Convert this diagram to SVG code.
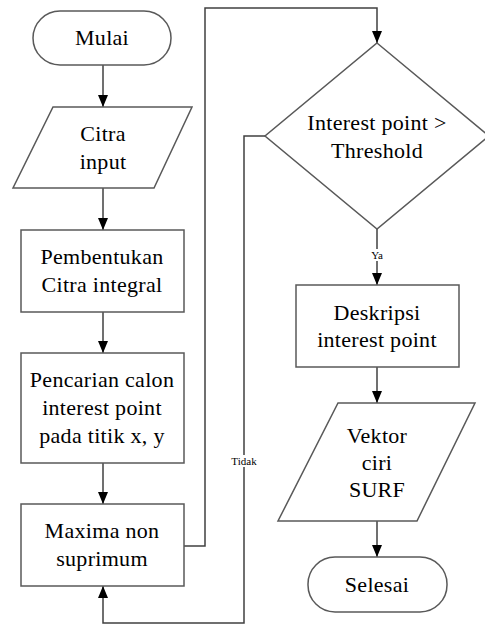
<svg xmlns="http://www.w3.org/2000/svg" width="485" height="626" viewBox="0 0 485 626">
<style>
.shape{fill:#fff;stroke:#595959;stroke-width:1.5}
.t{font-family:'Liberation Serif','Times New Roman',serif;font-size:22px;fill:#000;text-anchor:middle;letter-spacing:0.3px}
.lbl{font-family:'Liberation Serif','Times New Roman',serif;font-size:11px;fill:#000;text-anchor:middle}
.c{fill:none;stroke:#404040;stroke-width:1.5}
.bg{fill:#fff;stroke:none}
</style>
<defs>
<marker id="arr" markerWidth="12" markerHeight="10" refX="12" refY="5" orient="auto" markerUnits="userSpaceOnUse" viewBox="0 0 12 10">
<path d="M0,0 L12,5 L0,10 Z" fill="#000"/>
</marker>
</defs>
<rect width="485" height="626" fill="#fff"/>
<g id="connectors">
<path class="c" d="M103,65 V107" marker-end="url(#arr)"/>
<path class="c" d="M103,188 V230" marker-end="url(#arr)"/>
<path class="c" d="M103,312 V353" marker-end="url(#arr)"/>
<path class="c" d="M103,463 V504" marker-end="url(#arr)"/>
<path class="c" d="M184,546 H205 V8 H377 V43" marker-end="url(#arr)"/>
<path class="c" d="M377,229 V285" marker-end="url(#arr)"/>
<path class="c" d="M377,367 V403" marker-end="url(#arr)"/>
<path class="c" d="M377,521 V557" marker-end="url(#arr)"/>
<path class="c" d="M265,136 H244 V623 H103 V586" marker-end="url(#arr)"/>
<rect class="bg" x="368" y="249" width="18" height="12"/>
<text class="lbl" x="377" y="259">Ya</text>
<rect class="bg" x="229" y="455" width="30" height="12"/>
<text class="lbl" x="244" y="465">Tidak</text>
</g>
<g id="mulai">
<rect class="shape" x="33" y="11" width="138" height="54" rx="27"/>
<text class="t" x="102" y="45">Mulai</text>
</g>
<g id="citra-input">
<polygon class="shape" points="53,107 192,107 154,188 13,188"/>
<text class="t" x="103" y="141">Citra</text>
<text class="t" x="103" y="169">input</text>
</g>
<g id="pembentukan">
<rect class="shape" x="21" y="230" width="163" height="82"/>
<text class="t" x="102" y="264">Pembentukan</text>
<text class="t" x="102" y="292">Citra integral</text>
</g>
<g id="pencarian">
<rect class="shape" x="21" y="353" width="163" height="110"/>
<text class="t" x="102" y="387">Pencarian calon</text>
<text class="t" x="102" y="415">interest point</text>
<text class="t" x="102" y="443">pada titik x, y</text>
</g>
<g id="maxima">
<rect class="shape" x="21" y="504" width="163" height="82"/>
<text class="t" x="102" y="538">Maxima non</text>
<text class="t" x="102" y="566">suprimum</text>
</g>
<g id="decision">
<polygon class="shape" points="377,43 489,136 377,229 265,136"/>
<text class="t" x="377" y="130">Interest point &gt;</text>
<text class="t" x="377" y="158">Threshold</text>
</g>
<g id="deskripsi">
<rect class="shape" x="296" y="285" width="163" height="82"/>
<text class="t" x="377" y="320">Deskripsi</text>
<text class="t" x="377" y="347">interest point</text>
</g>
<g id="vektor">
<polygon class="shape" points="338,403 475,403 417,521 278,521"/>
<text class="t" x="377" y="443">Vektor</text>
<text class="t" x="377" y="470">ciri</text>
<text class="t" x="377" y="497">SURF</text>
</g>
<g id="selesai">
<rect class="shape" x="308" y="557" width="139" height="55" rx="27"/>
<text class="t" x="377" y="592">Selesai</text>
</g>
</svg>
